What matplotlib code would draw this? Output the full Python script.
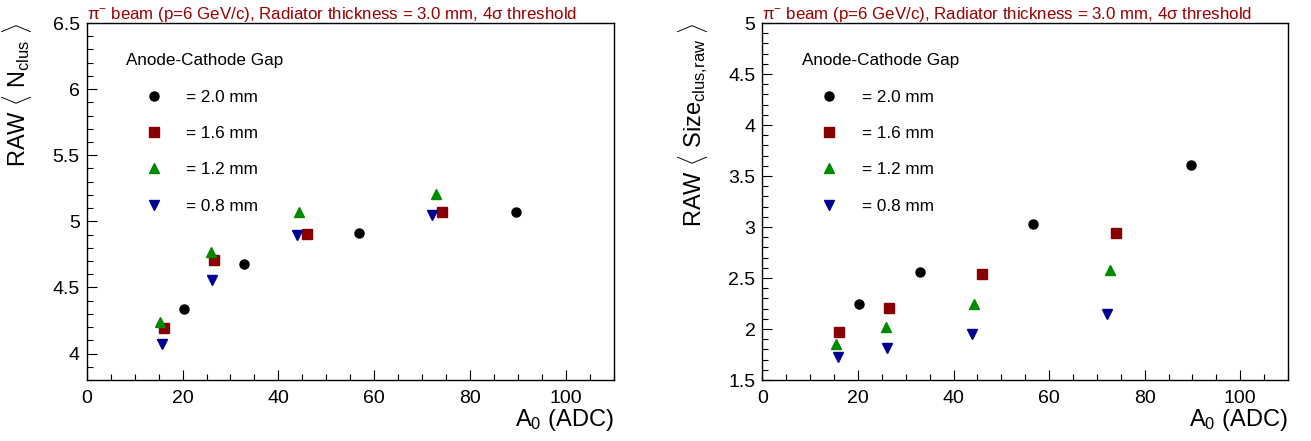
import numpy as np
import matplotlib
matplotlib.use('Agg')
import matplotlib.pyplot as plt
from matplotlib.ticker import MultipleLocator

plt.rcParams['font.family'] = ['Liberation Sans', 'DejaVu Sans']
plt.rcParams['mathtext.fontset'] = 'custom'
plt.rcParams['mathtext.rm'] = 'Liberation Sans'
plt.rcParams['mathtext.it'] = 'Liberation Sans:italic'

# gap labels and colours
gaps = ['= 2.0 mm', '= 1.6 mm', '= 1.2 mm', '= 0.8 mm']
markers = ['o', 's', '^', 'v']
colors = ['black', '#880000', '#008a00', '#000090']

# A0 (ADC) for each gap
a0_20 = [20.3, 32.9, 56.7, 89.6]
a0_16 = [16.1, 26.6, 46.0, 74.1]
a0_12 = [15.4, 25.9, 44.3, 72.8]
a0_08 = [15.8, 26.1, 43.9, 72.1]

# RAW <N_clus>
nclus_20 = [4.34, 4.675, 4.914, 5.067]
nclus_16 = [4.194, 4.71, 4.904, 5.067]
nclus_12 = [4.24, 4.765, 5.072, 5.205]
nclus_08 = [4.07, 4.554, 4.894, 5.05]

# RAW <Size_clus,raw>
size_20 = [2.243, 2.563, 3.034, 3.61]
size_16 = [1.974, 2.203, 2.543, 2.94]
size_12 = [1.85, 2.02, 2.25, 2.574]
size_08 = [1.729, 1.814, 1.951, 2.148]

a0 = [a0_20, a0_16, a0_12, a0_08]
nclus = [nclus_20, nclus_16, nclus_12, nclus_08]
size = [size_20, size_16, size_12, size_08]

header = 'π$^{-}$ beam (p=6 GeV/c), Radiator thickness = 3.0 mm, 4σ threshold'


def panel(ax, ydata, ylim, ylabel):
    for x, y, m, c, lab in zip(a0, ydata, markers, colors, gaps):
        ms = 7 if m == 's' else 6.5
        ax.plot(x, y, linestyle='none', marker=m, color=c, markersize=ms, label=lab)
    ax.set_xlim(0, 110)
    ax.set_ylim(*ylim)
    ax.xaxis.set_major_locator(MultipleLocator(20))
    ax.xaxis.set_minor_locator(MultipleLocator(5))
    ax.yaxis.set_major_locator(MultipleLocator(0.5))
    ax.yaxis.set_minor_locator(MultipleLocator(0.1))
    ax.yaxis.set_major_formatter(plt.FuncFormatter(lambda v, p: f'{v:g}'))
    ax.tick_params(which='both', direction='in', top=False, right=False, labelsize=14, width=0.8)
    ax.tick_params(which='major', length=7.5)
    ax.tick_params(which='minor', length=4)
    ax.tick_params(axis='x', pad=7)
    ax.tick_params(axis='y', pad=5)
    for s in ax.spines.values():
        s.set_linewidth(1.0)
    ax.set_xlabel(r'A$_{0}$ (ADC)', fontsize=17, loc='right')
    ax.xaxis.set_label_coords(1.0, -0.075)
    ax.set_ylabel(ylabel, fontsize=17, loc='top')
    ax.yaxis.set_label_coords(-0.1, 1.0)
    ax.text(0.0, 1.012, header, transform=ax.transAxes, color='#990000', fontsize=12.2, ha='left', va='baseline')
    ax.legend(title='Anode-Cathode Gap', loc='upper left', bbox_to_anchor=(0.075, 0.915),
              frameon=False, fontsize=12.3, title_fontsize=12.3, alignment='left',
              handlelength=3.2, handletextpad=0.3, labelspacing=1.25, borderpad=0,
              numpoints=1, borderaxespad=0)


fig = plt.figure(figsize=(13.11, 4.41), dpi=100)
ax1 = fig.add_axes([0.0661, 0.1383, 0.4023, 0.8095])
ax2 = fig.add_axes([0.5815, 0.1383, 0.4010, 0.8095])

panel(ax1, nclus, (3.8, 6.5), r'RAW $\langle$ N$_{\mathrm{clus}}$ $\rangle$')
panel(ax2, size, (1.5, 5.0), r'RAW $\langle$ Size$_{\mathrm{clus{,}raw}}$ $\rangle$')

fig.savefig('out.png', dpi=100)
